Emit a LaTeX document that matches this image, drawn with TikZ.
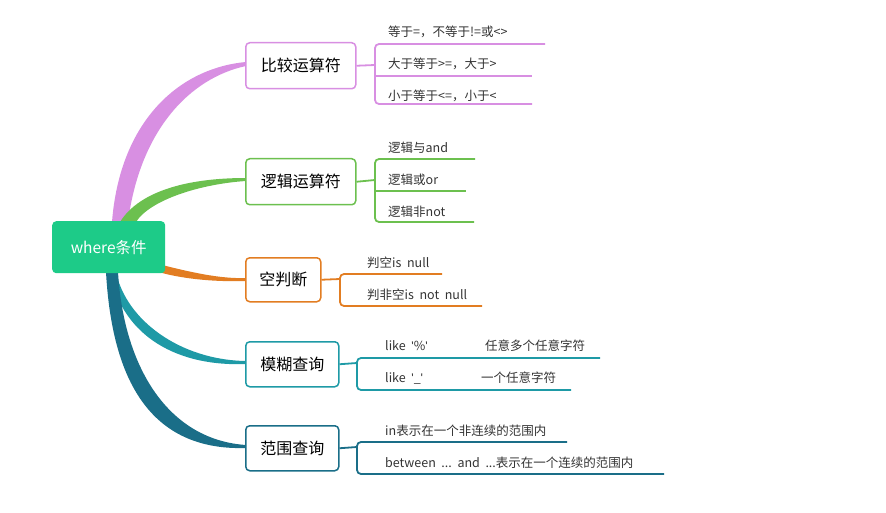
\documentclass[tikz,border=0pt]{standalone}
\usepackage{fontspec}
\setmainfont{Noto Sans CJK SC}
\newfontfamily\lat{Liberation Sans}
\newcommand{\q}{{\lat\symbol{39}}}
\begin{document}
\begin{tikzpicture}[x=1pt,y=-1pt,
  box/.style={draw=#1,line width=1.5pt,rounded corners=4pt,fill=white,anchor=north west,inner sep=0pt},
  leaf/.style={font=\fontsize{12.5}{14}\selectfont,text=black!80,anchor=west,inner sep=0pt},
  br/.style={draw=#1,line width=1.8pt,rounded corners=4pt}]
\definecolor{cA}{HTML}{D88FE2}\definecolor{cB}{HTML}{6CC04F}\definecolor{cC}{HTML}{E27D22}
\definecolor{cD}{HTML}{1E9AA6}\definecolor{cE}{HTML}{1A6E88}\definecolor{root}{HTML}{1DCB88}
\useasboundingbox (0,0) rectangle (886,513);
% ribbons
\fill[cA] (112,222) .. controls (120,120) and (180,68) .. (246,62) -- (246,66) .. controls (190,78) and (140,130) .. (128,222) -- cycle;
\fill[cB] (120,222) .. controls (140,190) and (190,178) .. (246,178) -- (246,181) .. controls (200,184) and (150,200) .. (136,222) -- cycle;
\fill[cC] (162,265) .. controls (190,272) and (220,279) .. (246,278) -- (246,281) .. controls (215,282) and (185,279) .. (162,273) -- cycle;
\fill[cD] (116,272) .. controls (126,320) and (180,360) .. (246,361) -- (246,364) .. controls (170,367) and (120,330) .. (110,272) -- cycle;
\fill[cE] (118,272) .. controls (124,370) and (170,440) .. (246,445) -- (246,448) .. controls (150,451) and (112,380) .. (106,272) -- cycle;
% root
\node[fill=root,rounded corners=4pt,minimum width=113pt,minimum height=52pt,anchor=north west,text=white,font=\fontsize{15.5}{18}\selectfont] (r) at (52,221) {where条件};
% boxes
\node[box=cA,minimum width=110pt,minimum height=46pt,font=\fontsize{16}{19}\selectfont] (b1) at (245,42) {比较运算符};
\node[box=cB,minimum width=110pt,minimum height=46pt,font=\fontsize{16}{19}\selectfont] (b2) at (245,158) {逻辑运算符};
\node[box=cC,minimum width=75pt,minimum height=44pt,font=\fontsize{16}{19}\selectfont] (b3) at (245,257) {空判断};
\node[box=cD,minimum width=93pt,minimum height=45pt,font=\fontsize{16}{19}\selectfont] (b4) at (245,341) {模糊查询};
\node[box=cE,minimum width=93pt,minimum height=45pt,font=\fontsize{16}{19}\selectfont] (b5) at (245,425) {范围查询};
% branch 1
\coordinate (j1) at (375,65);
\draw[cA,line width=1.8pt] (b1.east) -- (j1);
\draw[br=cA] (545,44) -- (375,44) -- (375,104) -- (532,104);
\draw[cA,line width=1.8pt] (375,76) -- (532,76);
\node[leaf] (l11) at (388,32) {等于=，不等于!=或<>};
\node[leaf] (l12) at (388,64) {大于等于>=，大于>};
\node[leaf] (l13) at (388,96) {小于等于<=，小于<};
% branch 2
\coordinate (j2) at (375,180);
\draw[cB,line width=1.8pt] (b2.east) -- (j2);
\draw[br=cB] (475,159) -- (375,159) -- (375,222) -- (474,222);
\draw[cB,line width=1.8pt] (375,191) -- (466,191);
\node[leaf] (l21) at (388,148) {逻辑与and};
\node[leaf] (l22) at (388,180) {逻辑或or};
\node[leaf] (l23) at (388,212) {逻辑非not};
% branch 3
\coordinate (j3) at (340,279);
\draw[cC,line width=1.8pt] (b3.east) -- (j3);
\draw[br=cC] (442,274) -- (340,274) -- (340,306) -- (482,306);
\node[leaf] (l31) at (367,263) {判空is\ \ null};
\node[leaf] (l32) at (367,295) {判非空is\ \ not\ \ null};
% branch 4
\coordinate (j4) at (357,363);
\draw[cD,line width=1.8pt] (b4.east) -- (j4);
\draw[br=cD] (600,358) -- (357,358) -- (357,390) -- (571,390);
\node[leaf] (l41) at (385,346) {like\ \ \q\%\q};
\node[leaf] (l42) at (485,346) {任意多个任意字符};
\node[leaf] (l43) at (385,378) {like\ \ \q\_\q};
\node[leaf] (l44) at (481,378) {一个任意字符};
% branch 5
\coordinate (j5) at (357,447);
\draw[cE,line width=1.8pt] (b5.east) -- (j5);
\draw[br=cE] (567,442) -- (357,442) -- (357,474) -- (664,474);
\node[leaf] (l51) at (385,431) {in表示在一个非连续的范围内};
\node[leaf] (l52) at (385,463) {between\ \ ...\ \ and\ \ ...表示在一个连续的范围内};
\end{tikzpicture}
\end{document}
